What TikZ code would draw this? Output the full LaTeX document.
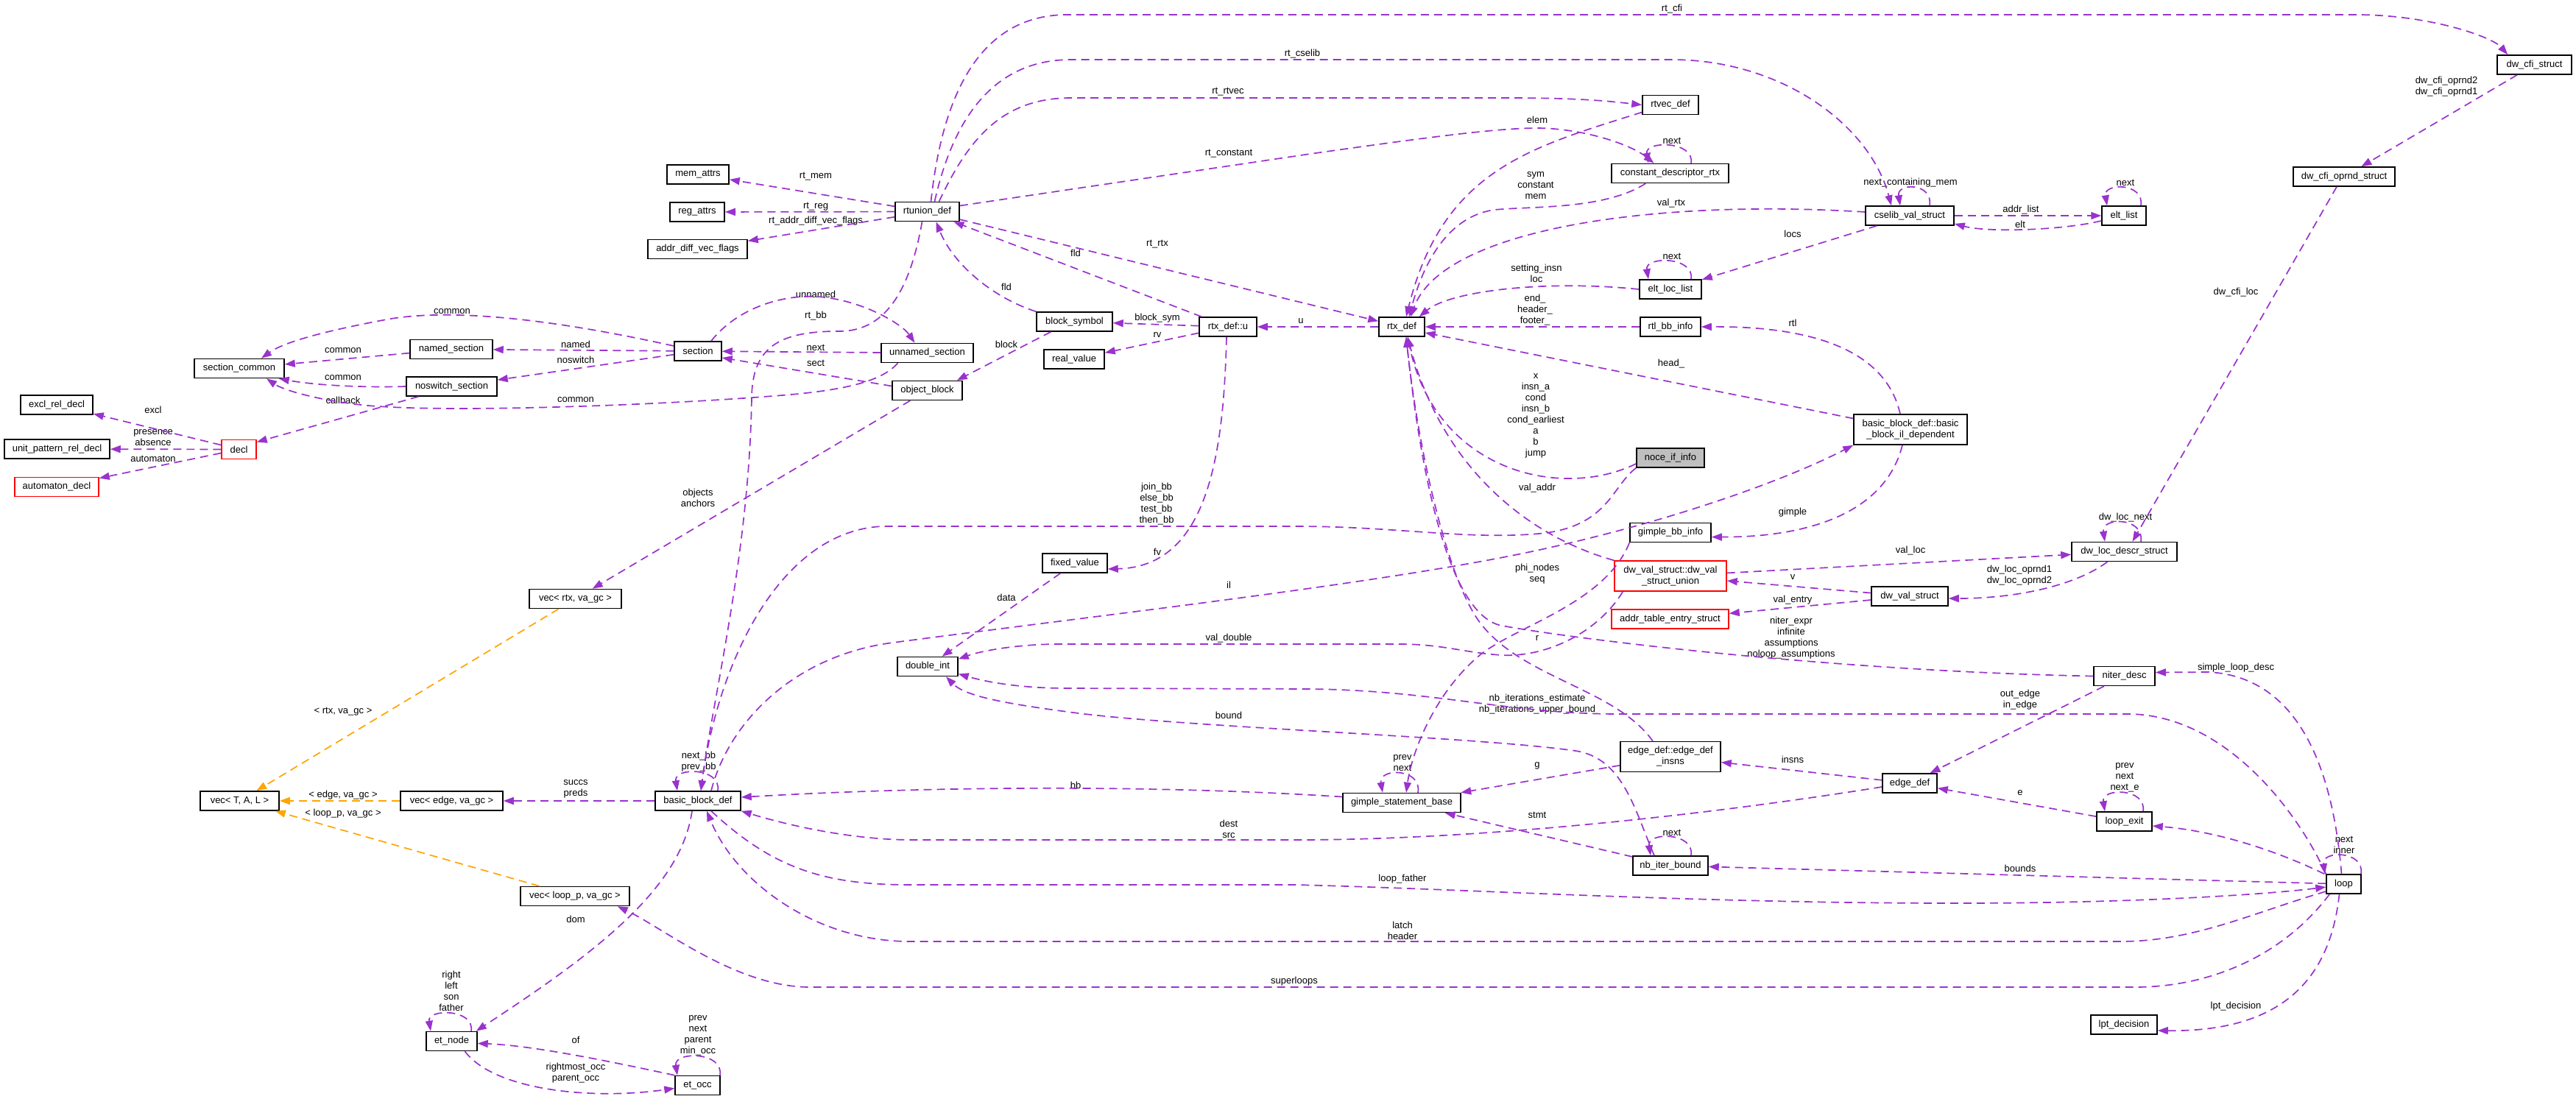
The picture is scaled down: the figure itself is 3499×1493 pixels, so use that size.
\documentclass[tikz,border=0pt]{standalone}
\usepackage{fontspec}
\setmainfont{Liberation Sans}
\usetikzlibrary{arrows.meta,calc}
\definecolor{purp}{HTML}{9A32CD}
\definecolor{orng}{HTML}{FFA500}
\begin{document}
\begin{tikzpicture}[x=1pt,y=-1pt,
  cls/.style={draw=black, line width=1.5pt, fill=white, inner sep=0pt, minimum height=26pt, font=\fontsize{13}{15}\selectfont, align=center},
  cls2/.style={cls, minimum height=41pt},
  clsred/.style={cls, draw=red},
  clsred2/.style={cls2, draw=red},
  clsgray/.style={cls, fill=gray!50},
  lbl/.style={inner sep=0pt, font=\fontsize{13}{15}\selectfont, align=center},
  ed/.style={draw=purp, line width=1.7pt, dash pattern=on 11pt off 7pt, -{Triangle[length=14pt,width=10pt]}},
  edo/.style={ed, draw=orng}]
\path[use as bounding box] (0,0) rectangle (3499,1493);
\fill[white] (0,0) rectangle (3499,1493);

% ---------------- nodes ----------------
\node[cls, minimum width=84pt] (mem) at (948,237) {mem\_attrs};
\node[cls, minimum width=74pt] (reg) at (947,288) {reg\_attrs};
\node[cls, minimum width=135pt] (addr) at (947.5,338.5) {addr\_diff\_vec\_flags};
\node[cls, minimum width=87pt] (rtunion) at (1259.5,287.5) {rtunion\_def};
\node[cls, minimum width=122pt] (seccommon) at (325,500.5) {section\_common};
\node[cls, minimum width=112pt] (named) at (613,474.5) {named\_section};
\node[cls, minimum width=64pt] (section) at (948,477) {section};
\node[cls, minimum width=125pt] (unnamed) at (1259.5,479.5) {unnamed\_section};
\node[cls, minimum width=123pt] (noswitch) at (613.5,525) {noswitch\_section};
\node[cls, minimum width=103pt] (bsym) at (1459.5,437) {block\_symbol};
\node[cls, minimum width=82pt] (realv) at (1459,488) {real\_value};
\node[cls, minimum width=78pt] (rtxu) at (1668,444) {rtx\_def::u};
\node[cls, minimum width=95pt] (objblock) at (1259.5,530.5) {object\_block};
\node[cls, minimum width=76pt] (rtvec) at (2269,142.5) {rtvec\_def};
\node[cls, minimum width=159pt] (cdr) at (2268.5,235.5) {constant\_descriptor\_rtx};
\node[cls, minimum width=120pt] (cselib) at (2594,293) {cselib\_val\_struct};
\node[cls, minimum width=84pt] (eltloc) at (2269,393) {elt\_loc\_list};
\node[cls, minimum width=62pt] (rtxdef) at (1904,444) {rtx\_def};
\node[cls, minimum width=82pt] (rtlbb) at (2269,444) {rtl\_bb\_info};
\node[cls, minimum width=101pt] (dwcfi) at (3442.5,88) {dw\_cfi\_struct};
\node[cls, minimum width=138pt] (dwcfiop) at (3184,240) {dw\_cfi\_oprnd\_struct};
\node[cls, minimum width=60pt] (eltlist) at (2885,293) {elt\_list};
\node[cls, minimum width=98pt] (excl) at (77,550) {excl\_rel\_decl};
\node[cls, minimum width=143pt] (unitp) at (77.5,610) {unit\_pattern\_rel\_decl};
\node[clsred, minimum width=47pt] (decl) at (324.5,610.5) {decl};
\node[clsred, minimum width=114pt] (autom) at (77,661.5) {automaton\_decl};
\node[cls, minimum width=125pt] (vecrtx) at (781.5,813.5) {vec< rtx, va\_gc >};
\node[cls, minimum width=88pt] (fixv) at (1460,765) {fixed\_value};
\node[cls, minimum width=82pt] (dint) at (1260,905.5) {double\_int};
\node[cls2, minimum width=154pt] (bbil) at (2595,583.5) {basic\_block\_def::basic\\\_block\_il\_dependent};
\node[clsgray, minimum width=92pt] (noce) at (2269,622) {noce\_if\_info};
\node[cls, minimum width=110pt] (gbi) at (2269,723.5) {gimple\_bb\_info};
\node[clsred2, minimum width=152pt] (dwvu) at (2269,782.5) {dw\_val\_struct::dw\_val\\\_struct\_union};
\node[cls, minimum width=104pt] (dwval) at (2594,810) {dw\_val\_struct};
\node[clsred, minimum width=159pt] (addrtab) at (2268.5,841) {addr\_table\_entry\_struct};
\node[cls, minimum width=143pt] (dwloc) at (2885.5,749.5) {dw\_loc\_descr\_struct};
\node[cls, minimum width=83pt] (niter) at (2885.5,918.5) {niter\_desc};
\node[cls, minimum width=107pt] (vectal) at (325.5,1088) {vec< T, A, L >};
\node[cls, minimum width=139pt] (vecedge) at (613.5,1088) {vec< edge, va\_gc >};
\node[cls, minimum width=148pt] (veclp) at (781,1217.5) {vec< loop\_p, va\_gc >};
\node[cls, minimum width=69pt] (etnode) at (613.5,1414.5) {et\_node};
\node[cls, minimum width=116pt] (bbdef) at (948,1088) {basic\_block\_def};
\node[cls, minimum width=61pt] (etocc) at (947.5,1474.5) {et\_occ};
\node[cls, minimum width=160pt] (gsb) at (1904,1090.5) {gimple\_statement\_base};
\node[cls2, minimum width=136pt] (edi) at (2269,1028) {edge\_def::edge\_def\\\_insns};
\node[cls, minimum width=74pt] (edgedef) at (2594,1064) {edge\_def};
\node[cls, minimum width=102pt] (nbib) at (2269,1176) {nb\_iter\_bound};
\node[cls, minimum width=75pt] (loopexit) at (2885.5,1116) {loop\_exit};
\node[cls, minimum width=47pt] (loopn) at (3183.5,1201) {loop};
\node[cls, minimum width=90pt] (lpt) at (2885,1392) {lpt\_decision};

% ---------------- labels ----------------
\node[lbl] (l1) at (1108,240) {rt\_mem};
\node[lbl] (l2) at (1108,281) {rt\_reg};
\node[lbl] (l3) at (1108,300) {rt\_addr\_diff\_vec\_flags};
\node[lbl] (l4) at (2271,12) {rt\_cfi};
\node[lbl] (l5) at (1769,73) {rt\_cselib};
\node[lbl] (l6) at (1668,125) {rt\_rtvec};
\node[lbl] (l7) at (1669,209) {rt\_constant};
\node[lbl] (l8) at (2088,163) {elem};
\node[lbl] (l9) at (2271,191) {next};
\node[lbl] (l10) at (2086,252) {sym\\constant\\mem};
\node[lbl] (l11) at (2270,276) {val\_rtx};
\node[lbl] (l12) at (2595,248) {next\_containing\_mem};
\node[lbl] (l13) at (2745,285) {addr\_list};
\node[lbl] (l14) at (2744,305) {elt};
\node[lbl] (l15) at (2887,248) {next};
\node[lbl] (l16) at (3323,118) {dw\_cfi\_oprnd2\\dw\_cfi\_oprnd1};
\node[lbl] (l17) at (2435,318) {locs};
\node[lbl] (l18) at (2271,348) {next};
\node[lbl] (l19) at (2087,371) {setting\_insn\\loc};
\node[lbl] (l20) at (1572,332) {rt\_rtx};
\node[lbl] (l21) at (1461,344) {fld};
\node[lbl] (l22) at (1367,390) {fld};
\node[lbl] (l23) at (1767,436) {u};
\node[lbl] (l24) at (1572,432) {block\_sym};
\node[lbl] (l25) at (1572,455) {rv};
\node[lbl] (l26) at (2085,421) {end\_\\header\_\\footer\_};
\node[lbl] (l27) at (2435,439) {rtl};
\node[lbl] (l28) at (2270,494) {head\_};
\node[lbl] (l29) at (1108,400) {unnamed};
\node[lbl] (l30) at (1108,429) {rt\_bb};
\node[lbl] (l31) at (1108,472) {next};
\node[lbl] (l32) at (1108,493) {sect};
\node[lbl] (l33) at (1367,468) {block};
\node[lbl] (l34) at (614,423) {common};
\node[lbl] (l35) at (466,476) {common};
\node[lbl] (l36) at (782,468) {named};
\node[lbl] (l37) at (782,489) {noswitch};
\node[lbl] (l38) at (466,513) {common};
\node[lbl] (l39) at (466,544) {callback};
\node[lbl] (l40) at (782,543) {common};
\node[lbl] (l41) at (208,557) {excl};
\node[lbl] (l42) at (208,595) {presence\\absence};
\node[lbl] (l43) at (208,623) {automaton};
\node[lbl] (l44) at (2086,565) {x\\insn\_a\\cond\\insn\_b\\cond\_earliest\\a\\b\\jump};
\node[lbl] (l45) at (3037,397) {dw\_cfi\_loc};
\node[lbl] (l46) at (2088,663) {val\_addr};
\node[lbl] (l47) at (1571,685) {join\_bb\\else\_bb\\test\_bb\\then\_bb};
\node[lbl] (l48) at (948,676) {objects\\anchors};
\node[lbl] (l49) at (2435,696) {gimple};
\node[lbl] (l50) at (2887,703) {dw\_loc\_next};
\node[lbl] (l51) at (2595,748) {val\_loc};
\node[lbl] (l52) at (1572,750) {fv};
\node[lbl] (l53) at (2088,780) {phi\_nodes\\seq};
\node[lbl] (l54) at (2435,784) {v};
\node[lbl] (l55) at (2743,782) {dw\_loc\_oprnd1\\dw\_loc\_oprnd2};
\node[lbl] (l56) at (1669,795) {il};
\node[lbl] (l57) at (1367,812) {data};
\node[lbl] (l58) at (2435,815) {val\_entry};
\node[lbl] (l59) at (2433,867) {niter\_expr\\infinite\\assumptions\\noloop\_assumptions};
\node[lbl] (l60) at (2088,867) {r};
\node[lbl] (l61) at (1669,867) {val\_double};
\node[lbl] (l62) at (3037,907) {simple\_loop\_desc};
\node[lbl] (l63) at (2744,951) {out\_edge\\in\_edge};
\node[lbl] (l64) at (2088,957) {nb\_iterations\_estimate\\nb\_iterations\_upper\_bound};
\node[lbl] (l65) at (1669,972) {bound};
\node[lbl] (l66) at (466,967) {< rtx, va\_gc >};
\node[lbl] (l67) at (949,1035) {next\_bb\\prev\_bb};
\node[lbl] (l68) at (1905,1037) {prev\\next};
\node[lbl] (l69) at (2088,1040) {g};
\node[lbl] (l70) at (2435,1032) {insns};
\node[lbl] (l71) at (2886,1056) {prev\\next\\next\_e};
\node[lbl] (l72) at (1461,1067) {bb};
\node[lbl] (l73) at (2744,1077) {e};
\node[lbl] (l74) at (466,1080) {< edge, va\_gc >};
\node[lbl] (l75) at (782,1072) {succs\\preds};
\node[lbl] (l76) at (466,1105) {< loop\_p, va\_gc >};
\node[lbl] (l77) at (2088,1107) {stmt};
\node[lbl] (l78) at (1669,1126) {dest\\src};
\node[lbl] (l79) at (2271,1131) {next};
\node[lbl] (l80) at (3184,1148) {next\\inner};
\node[lbl] (l81) at (2744,1180) {bounds};
\node[lbl] (l82) at (1905,1194) {loop\_father};
\node[lbl] (l83) at (782,1249) {dom};
\node[lbl] (l84) at (1905,1264) {latch\\header};
\node[lbl] (l85) at (613,1346) {right\\left\\son\\father};
\node[lbl] (l86) at (1758,1333) {superloops};
\node[lbl] (l87) at (3037,1367) {lpt\_decision};
\node[lbl] (l88) at (948,1407) {prev\\next\\parent\\min\_occ};
\node[lbl] (l89) at (782,1413) {of};
\node[lbl] (l90) at (782,1458) {rightmost\_occ\\parent\_occ};

% ---------------- edges ----------------
\draw[ed] (rtunion) -- (mem);
\draw[ed] (rtunion) -- (reg);
\draw[ed] (rtunion) -- (addr);
\draw[ed] ($(rtunion.north)+(5,0)$) .. controls (1280,130) and (1330,20) .. (1450,20) -- (3200,20) .. controls (3300,20) and (3385,50) .. ($(dwcfi.north west)+(15,0)$);
\draw[ed] ($(rtunion.north)+(10,0)$) .. controls (1295,160) and (1350,81) .. (1455,81) -- (2270,81) .. controls (2420,81) and (2540,170) .. ($(cselib.north)+(-25,0)$);
\draw[ed] ($(rtunion.north)+(16,0)$) .. controls (1315,190) and (1360,133) .. (1455,133) -- (2050,133) .. controls (2150,133) and (2190,138) .. (rtvec.west);
\draw[ed] ($(rtunion.east)+(0,-8)$) -- (1780,209) .. controls (1950,185) and (2060,170) .. (2110,175) .. controls (2170,180) and (2220,200) .. ($(cdr.north)+(-22,0)$);
\draw[ed] (rtunion) -- (rtxdef);
\draw[ed] (rtxu) -- (rtunion);
\draw[ed] (bsym.north west) .. controls (1350,405) and (1295,360) .. ($(rtunion.south)+(12,0)$);
\draw[ed] ($(rtunion.south)+(-7,0)$) .. controls (1235,400) and (1200,450) .. (1140,450) .. controls (1060,450) and (1022,470) .. (1021,540) .. controls (1018,750) and (968,950) .. ($(bbdef.north)+(4,0)$);
\draw[ed] (noce.south west) .. controls (2190,660) and (2185,712) .. (2100,724) .. controls (2000,735) and (1900,715) .. (1760,715) -- (1200,715) .. controls (1060,720) and (975,900) .. ($(bbdef.north)+(4,0)$);
\draw[ed] ($(bbdef.north)+(18,0)$) .. controls (990,980) and (1080,890) .. (1213,873) .. controls (1500,835) and (1900,790) .. (2100,745) .. controls (2280,705) and (2430,650) .. (bbil.south west);
\draw[ed] ($(noce.west)+(0,8)$) .. controls (2120,680) and (1950,640) .. ($(rtxdef.south)+(8,0)$);
\draw[ed] (dwvu.north west) .. controls (2080,730) and (1960,640) .. ($(rtxdef.south)+(8,0)$);
\draw[ed] ($(edi.north)+(-24,0)$) .. controls (2190,930) and (2050,920) .. (2000,830) .. controls (1960,760) and (1925,600) .. ($(rtxdef.south)+(6,0)$);
\draw[ed] (niter.west) .. controls (2500,912) and (2150,870) .. (2040,850) .. controls (1960,835) and (1925,600) .. ($(rtxdef.south)+(6,0)$);
\draw[ed] (gbi.south west) .. controls (2180,820) and (2060,850) .. (2010,890) .. controls (1950,940) and (1918,1020) .. ($(gsb.north)+(6,0)$);
\draw[ed] ($(gsb.north)+(22,0)$) .. controls (1932,1043) and (1872,1043) .. ($(gsb.north)+(-26,0)$);
\draw[ed] ($(gsb.west)+(0,-8)$) .. controls (1600,1068) and (1300,1066) .. ($(bbdef.east)+(0,-5)$);
\draw[ed] ($(edgedef.west)+(0,5)$) .. controls (2300,1110) and (2000,1141) .. (1760,1141) -- (1240,1141) .. controls (1150,1141) and (1060,1118) .. (bbdef.south east);
\draw[ed] (edgedef) -- (edi);
\draw[ed] (edi) -- (gsb);
\draw[ed] (nbib) -- (gsb);
\draw[ed] ($(nbib.north)+(28,0)$) .. controls (2302,1130) and (2237,1130) .. ($(nbib.north)+(-27,0)$);
\draw[ed] ($(nbib.north)+(-22,0)$) .. controls (2220,1100) and (2205,1030) .. (2140,1020) .. controls (2000,1000) and (1600,988) .. (1450,967) .. controls (1360,955) and (1310,945) .. ($(dint.south)+(25,0)$);
\draw[ed] (loopn.north west) .. controls (3120,1100) and (3020,970) .. (2890,970) -- (2200,970) .. controls (2050,970) and (1950,938) .. (1780,936) -- (1450,935) .. controls (1380,935) and (1335,925) .. ($(dint.east)+(0,10)$);
\draw[ed] ($(dwvu.south west)+(12,0)$) .. controls (2170,860) and (2100,893) .. (2040,890) .. controls (1990,887) and (1960,875) .. (1900,875) -- (1440,875) .. controls (1380,875) and (1330,885) .. ($(dint.east)+(0,-10)$);
\draw[ed] (fixv) -- (dint);
\draw[ed] ($(rtxu.south)+(-2,0)$) .. controls (1662,620) and (1640,770) .. ($(fixv.east)+(0,8)$);
\draw[ed] (rtxu) -- (bsym);
\draw[ed] (rtxu) -- (realv);
\draw[ed] (rtxdef) -- (rtxu);
\draw[ed] ($(bsym.south)+(-32,0)$) -- ($(objblock.north east)+(-8,0)$);
\draw[ed] ($(objblock.west)+(0,-6)$) -- ($(section.east)+(0,9)$);
\draw[ed] (unnamed) -- (section);
\draw[ed] ($(section.north)+(18,0)$) .. controls (1000,420) and (1060,400) .. (1110,403) .. controls (1170,407) and (1225,440) .. ($(unnamed.north)+(-17,0)$);
\draw[ed] (section) -- (named);
\draw[ed] (section) -- (noswitch);
\draw[ed] (named) -- (seccommon);
\draw[ed] (noswitch.west) .. controls (480,527) and (420,522) .. ($(seccommon.south east)+(-8,0)$);
\draw[ed] ($(section.west)+(0,-7)$) .. controls (780,440) and (620,415) .. (520,435) .. controls (440,450) and (385,465) .. ($(seccommon.north)+(30,0)$);
\draw[ed] ($(unnamed.south)+(-40,0)$) .. controls (1200,515) and (1160,530) .. (1050,538) .. controls (900,550) and (600,562) .. (490,550) .. controls (430,543) and (385,530) .. ($(seccommon.south)+(37,0)$);
\draw[ed] ($(noswitch.south)+(-45,0)$) -- ($(decl.east)+(0,-10)$);
\draw[ed] (decl) -- (excl);
\draw[ed] (decl) -- (unitp);
\draw[ed] (decl) -- (autom);
\draw[ed] (objblock) -- (vecrtx);
\draw[edo] (vecrtx) -- (vectal);
\draw[edo] (vecedge) -- (vectal);
\draw[edo] (veclp) -- (vectal);
\draw[ed] (bbdef) -- (vecedge);
\draw[ed] ($(bbdef.south)+(-8,0)$) .. controls (925,1210) and (800,1300) .. ($(etnode.north east)+(-2,0)$);
\draw[ed] ($(etnode.north)+(26.5,0)$) .. controls (645,1370) and (580,1370) .. ($(etnode.north)+(-28.5,0)$);
\draw[ed] (etocc.north west) .. controls (820,1440) and (720,1420) .. ($(etnode.east)+(0,3)$);
\draw[ed] ($(etnode.south)+(18,0)$) .. controls (670,1480) and (800,1495) .. ($(etocc.west)+(0,4)$);
\draw[ed] ($(etocc.north)+(30.5,0)$) .. controls (983,1428) and (915,1428) .. ($(etocc.north)+(-27.5,0)$);
\draw[ed] ($(bbdef.north)+(27,0)$) .. controls (980,1042) and (915,1042) .. ($(bbdef.north)+(-28,0)$);
\draw[ed] ($(bbdef.south)+(18,0)$) .. controls (1050,1180) and (1120,1202) .. (1236,1202) -- (1760,1202) .. controls (2000,1208) and (2300,1227) .. (2660,1227) .. controls (2900,1227) and (3080,1215) .. ($(loopn.west)+(0,4)$);
\draw[ed] ($(loopn.west)+(0,10)$) .. controls (3060,1240) and (2980,1279) .. (2880,1279) -- (1236,1279) .. controls (1110,1279) and (1000,1200) .. ($(bbdef.south)+(12,0)$);
\draw[ed] ($(loopn.south west)+(5,0)$) .. controls (3100,1300) and (3000,1341) .. (2900,1341) -- (1100,1341) .. controls (1000,1341) and (900,1260) .. ($(veclp.south east)+(-17,0)$);
\draw[ed] ($(loopn.south)+(-6,0)$) .. controls (3165,1330) and (3100,1402) .. ($(lpt.east)+(0,8)$);
\draw[ed] ($(loopn.north west)+(-2,0)$) .. controls (3080,1150) and (3000,1128) .. ($(loopexit.east)+(0,6)$);
\draw[ed] (loopexit) -- (edgedef);
\draw[ed] ($(loopexit.north)+(25.5,0)$) .. controls (2916,1070) and (2854,1070) .. ($(loopexit.north)+(-26.5,0)$);
\draw[ed] ($(loopn.north)+(23.5,0)$) .. controls (3212,1155) and (3153,1155) .. ($(loopn.north)+(-25.5,0)$);
\draw[ed] ($(loopn.north)+(-3,0)$) .. controls (3170,1060) and (3130,920) .. (3000,913) -- ($(niter.east)+(0,-5)$);
\draw[ed] (niter) -- (edgedef);
\draw[ed] (loopn) -- (nbib);
\draw[ed] (dwvu) -- (dwloc);
\draw[ed] (dwval) -- (dwvu);
\draw[ed] (dwval) -- (addrtab);
\draw[ed] ($(dwloc.south)+(-23,0)$) .. controls (2820,795) and (2740,813) .. ($(dwval.east)+(0,3)$);
\draw[ed] ($(dwloc.north)+(22.5,0)$) .. controls (2913,702) and (2854,702) .. ($(dwloc.north)+(-26.5,0)$);
\draw[ed] ($(dwcfiop.south)+(-10,0)$) -- ($(dwloc.north)+(11,0)$);
\draw[ed] (dwcfi) -- (dwcfiop);
\draw[ed] (cselib) -- (eltlist);
\draw[ed] ($(eltlist.west)+(0,7)$) .. controls (2800,313) and (2700,316) .. ($(cselib.east)+(0,11)$);
\draw[ed] ($(eltlist.north)+(23,0)$) .. controls (2913,248) and (2857,248) .. ($(eltlist.north)+(-23,0)$);
\draw[ed] ($(cselib.north)+(27,0)$) .. controls (2626,248) and (2576,248) .. ($(cselib.north)+(-13,0)$);
\draw[ed] (cselib) -- (eltloc);
\draw[ed] ($(cselib.west)+(0,-5)$) .. controls (2250,270) and (1960,310) .. ($(rtxdef.north)+(12,0)$);
\draw[ed] (eltloc.west) .. controls (2100,380) and (1970,395) .. ($(rtxdef.north east)+(-8,0)$);
\draw[ed] ($(eltloc.north)+(28,0)$) .. controls (2302,348) and (2234,348) .. ($(eltloc.north)+(-30,0)$);
\draw[ed] ($(cdr.north)+(28.5,0)$) .. controls (2302,191) and (2234,191) .. ($(cdr.north)+(-29.5,0)$);
\draw[ed] ($(cdr.south west)+(47,0)$) .. controls (2180,285) and (2080,280) .. (2030,285) .. controls (1960,295) and (1930,370) .. ($(rtxdef.north)+(10,0)$);
\draw[ed] ($(rtvec.west)+(0,10)$) .. controls (2080,200) and (1960,230) .. ($(rtxdef.north)+(6,0)$);
\draw[ed] (rtlbb) -- (rtxdef);
\draw[ed] ($(bbil.north)+(-14,0)$) .. controls (2560,470) and (2450,443) .. (rtlbb.east);
\draw[ed] ($(bbil.west)+(0,-15)$) -- ($(rtxdef.east)+(0,8)$);
\draw[ed] ($(bbil.south)+(-11,0)$) .. controls (2560,700) and (2450,730) .. ($(gbi.east)+(0,6)$);
\end{tikzpicture}
\end{document}
